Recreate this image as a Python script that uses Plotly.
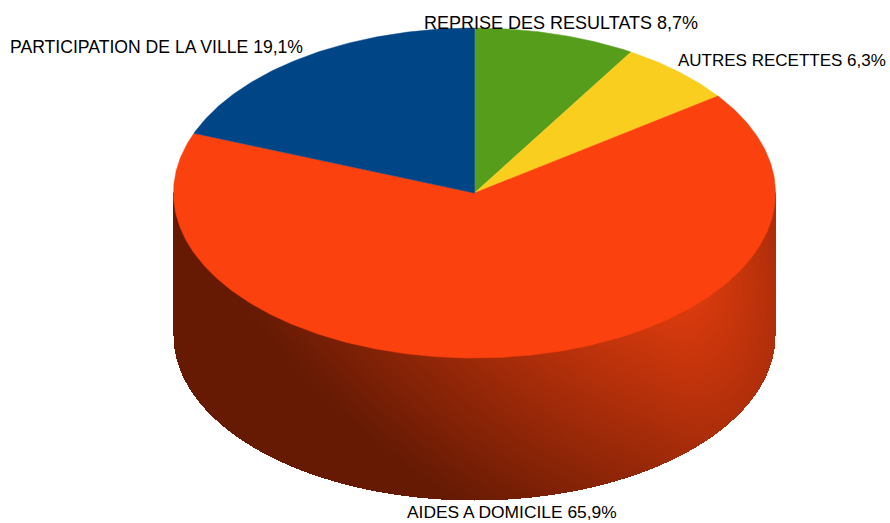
import numpy as np
import plotly.graph_objects as go

names = ["REPRISE DES RESULTATS", "AUTRES RECETTES", "AIDES A DOMICILE", "PARTICIPATION DE LA VILLE"]
values = [8.7, 6.3, 65.9, 19.1]
colors = ["#579D1C", "#F9CE1F", "#FB410E", "#004586"]
label_x = [422, 676, 405, 8]
label_y = [23, 60, 512, 47]
label_size = [18, 17, 17.4, 17.6]

W, H = 890, 523
CX, CY, RX, RY, DEPTH = 474.5, 193, 301, 165, 142

fig = go.Figure()

# side wall with a 2-D shading field
xs = np.arange(CX - RX, CX + RX + 1, 1.0)
ys = np.arange(CY, CY + RY + DEPTH + 1, 1.0)
X, Y = np.meshgrid(xs, ys)
dx = X - 650
dy = Y - 215
u = dx / np.where(dx > 0, 230, 460)
v = dy / 378
t = np.clip(np.sqrt(np.clip(u**2 + v**2 - 0.8 * u * v, 0, None)), 0, 1)
n = np.clip((X - CX) / RX, -1, 1)
bottom = CY + DEPTH + RY * np.sqrt(1 - n**2)
t[Y > bottom] = np.nan
fig.add_trace(go.Heatmap(
    x=xs, y=ys, z=t, zmin=0, zmax=1, showscale=False, hoverinfo="skip",
    colorscale=[[0, "#FC4410"], [1, "#661A04"]],
))

# top face, one wedge per value
start = 0.0
total = sum(values)
for name, val, col in zip(names, values, colors):
    a = np.linspace(start, start + val / total, max(4, int(val * 6))) * 2 * np.pi
    px = np.r_[CX, CX + RX * np.sin(a), CX]
    py = np.r_[CY, CY - RY * np.cos(a), CY]
    fig.add_trace(go.Scatter(
        x=px, y=py, mode="lines", fill="toself", fillcolor=col,
        line=dict(width=0.5, color=col), name=name, hoverinfo="name",
    ))
    start += val / total

for name, val, lx, ly, sz in zip(names, values, label_x, label_y, label_size):
    fig.add_annotation(
        x=lx, y=ly, xanchor="left", yanchor="middle", showarrow=False,
        text=f"{name} {val:.1f}%".replace(".", ","),
        font=dict(family="Liberation Sans", size=sz, color="#000000"),
    )

fig.update_layout(
    width=W, height=H, margin=dict(l=0, r=0, t=0, b=0), showlegend=False,
    paper_bgcolor="white", plot_bgcolor="white",
    xaxis=dict(range=[0, W], visible=False),
    yaxis=dict(range=[H, 0], visible=False),
)
fig.write_html("out.html", config={"displayModeBar": False},
               post_script="document.body.style.margin='0';")
